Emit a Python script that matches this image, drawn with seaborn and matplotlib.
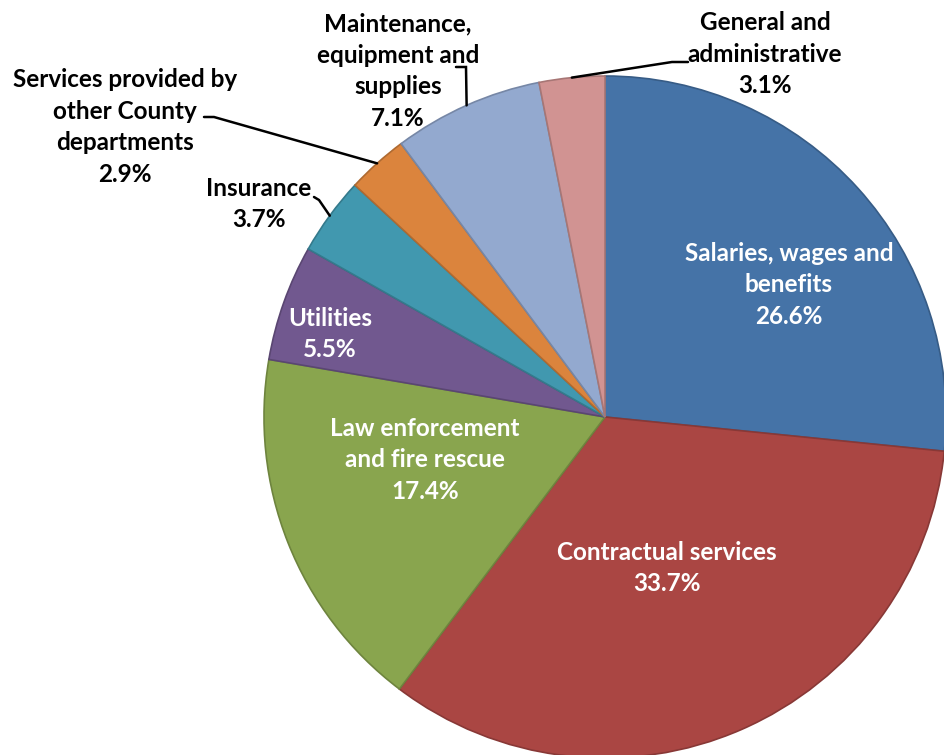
import numpy as np
import matplotlib
matplotlib.use("Agg")
from matplotlib import pyplot as plt
import seaborn as sns

categories = ["Salaries, wages and\nbenefits", "Contractual services", "Law enforcement\nand fire rescue",
              "Utilities", "Insurance", "Services provided by\nother County\ndepartments",
              "Maintenance,\nequipment and\nsupplies", "General and\nadministrative"]
shares = [26.6, 33.7, 17.4, 5.5, 3.7, 2.9, 7.1, 3.1]
colors = ["#4573A7", "#AA4643", "#89A54E", "#71588F", "#4198AF", "#DB843D", "#93A9CF", "#D19392"]

# pixel geometry of the reference
W, H = 944, 755
CX, CY, R = 605, 417, 341


def px(x, y):
    return (x - CX) / R, (CY - y) / R


sns.set_theme(style="white")
plt.rcParams['font.family'] = ['Lato', 'DejaVu Sans']

fig = plt.figure(figsize=(W / 100, H / 100), dpi=100)
ax = fig.add_axes([0, 0, 1, 1])
edges = [tuple(np.array(matplotlib.colors.to_rgb(c)) * 0.8) for c in colors]
wedges, _ = ax.pie(shares, colors=colors, startangle=90, counterclock=False, radius=1.0,
                   wedgeprops=dict(linewidth=1.2))
for w, e in zip(wedges, edges):
    w.set_edgecolor(e)

ax.set_xlim(-CX / R, (W - CX) / R)
ax.set_ylim(-(H - CY) / R, CY / R)
ax.set_aspect("equal")
ax.axis("off")

# label centres (pixels) and colour
spots = [(789, 285, "white"), (667, 568, "white"), (425, 460, "white"), (330, 334, "white"),
         (259, 204, "black"), (125, 127, "black"), (398, 71, "black"), (765, 54, "black")]
for cat, val, (lx, ly, tc) in zip(categories, shares, spots):
    x, y = px(lx, ly)
    ax.text(x, y, f"{cat}\n{val:.1f}%", ha="center", va="center", color=tc,
            fontsize=17.5, fontweight="bold", linespacing=1.45)

# leader lines from wedge edge to outside labels
elbows = {4: [(314, 197), (319, 200)], 5: [(204, 117), (214, 117)],
          6: [(456, 67), (466, 67)], 7: [(688, 62), (672, 62)]}
for i, pts in elbows.items():
    w = wedges[i]
    mid = np.deg2rad((w.theta1 + w.theta2) / 2)
    ex, ey = np.cos(mid), np.sin(mid)
    xs = [px(*p)[0] for p in pts] + [ex]
    ys = [px(*p)[1] for p in pts] + [ey]
    ax.plot(xs, ys, color="black", lw=1.8, solid_joinstyle="miter")

plt.savefig("out.png", dpi=100)
